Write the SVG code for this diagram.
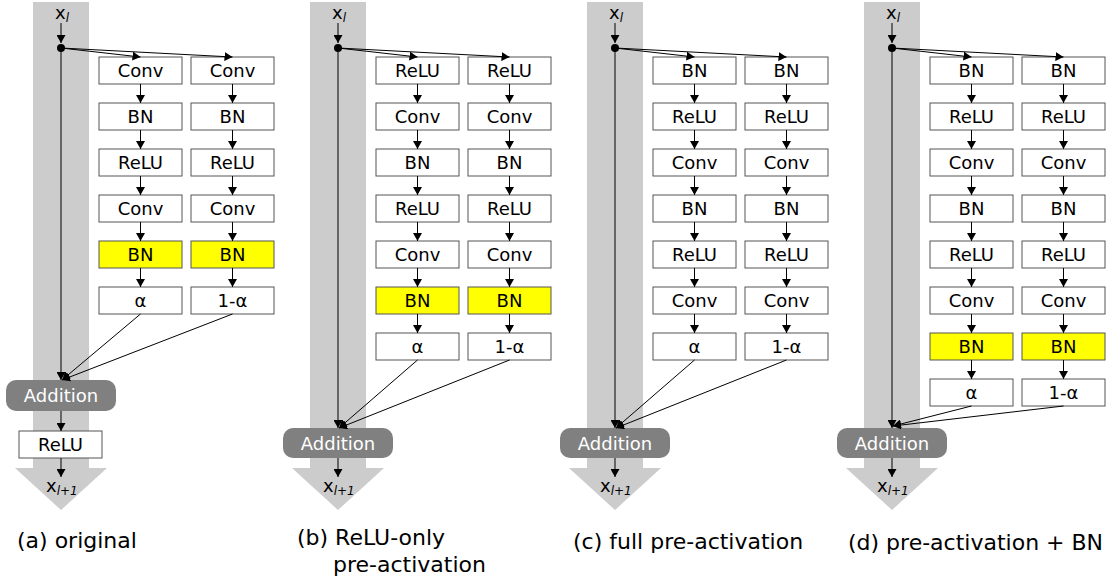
<svg xmlns="http://www.w3.org/2000/svg" width="1111" height="582" viewBox="0 0 1111 582">
<style>
text{font-family:"DejaVu Sans","Liberation Sans",sans-serif;fill:#000}
.band{fill:#cccccc}
.box{fill:#ffffff;stroke:#555555;stroke-width:1}
.ybox{fill:#ffff00;stroke:#555555;stroke-width:1}
.add{fill:#808080}
.bt{font-size:18px;text-anchor:middle}
.at{font-size:18px;text-anchor:middle;fill:#ffffff}
.cap{font-size:22px}
.lbl{font-size:18px}
.sub{font-size:12px;font-style:italic}
.c line{stroke:#000;stroke-width:1;marker-end:url(#ah)}
</style>
<defs>
<marker id="ah" markerUnits="userSpaceOnUse" markerWidth="8" markerHeight="9" refX="8" refY="4.5" orient="auto"><path d="M0,0 L8,4.5 L0,9 z" fill="#000"/></marker>
</defs>
<g id="bands">
<rect class="band" x="33" y="2" width="56" height="466"/><polygon class="band" points="15,468 107,468 61,510"/>
<rect class="band" x="310" y="2" width="56" height="466"/><polygon class="band" points="292,468 384,468 338,510"/>
<rect class="band" x="587" y="2" width="56" height="466"/><polygon class="band" points="569,468 661,468 615,510"/>
<rect class="band" x="864" y="2" width="56" height="466"/><polygon class="band" points="846,468 938,468 892,510"/>
</g>
<g id="labels">
<text class="lbl" x="55" y="19">x<tspan class="sub" dy="3">l</tspan></text>
<text class="lbl" x="332" y="19">x<tspan class="sub" dy="3">l</tspan></text>
<text class="lbl" x="609" y="19">x<tspan class="sub" dy="3">l</tspan></text>
<text class="lbl" x="886" y="19">x<tspan class="sub" dy="3">l</tspan></text>
<text class="lbl" x="46" y="492">x<tspan class="sub" dy="3">l+1</tspan></text>
<text class="lbl" x="323" y="492">x<tspan class="sub" dy="3">l+1</tspan></text>
<text class="lbl" x="600" y="492">x<tspan class="sub" dy="3">l+1</tspan></text>
<text class="lbl" x="877" y="492">x<tspan class="sub" dy="3">l+1</tspan></text>
</g>
<!-- Panel a -->
<g id="a-c1-0"><rect class="box" x="99" y="57" width="83" height="27"/><text class="bt" x="140.5" y="77">Conv</text></g>
<g id="a-c1-1"><rect class="box" x="99" y="103" width="83" height="27"/><text class="bt" x="140.5" y="123">BN</text></g>
<g id="a-c1-2"><rect class="box" x="99" y="149" width="83" height="27"/><text class="bt" x="140.5" y="169">ReLU</text></g>
<g id="a-c1-3"><rect class="box" x="99" y="195" width="83" height="27"/><text class="bt" x="140.5" y="215">Conv</text></g>
<g id="a-c1-4"><rect class="ybox" x="99" y="241" width="83" height="27"/><text class="bt" x="140.5" y="261">BN</text></g>
<g id="a-c1-5"><rect class="box" x="99" y="287" width="83" height="27"/><text class="bt" x="140.5" y="307">α</text></g>
<g id="a-c2-0"><rect class="box" x="191" y="57" width="83" height="27"/><text class="bt" x="232.5" y="77">Conv</text></g>
<g id="a-c2-1"><rect class="box" x="191" y="103" width="83" height="27"/><text class="bt" x="232.5" y="123">BN</text></g>
<g id="a-c2-2"><rect class="box" x="191" y="149" width="83" height="27"/><text class="bt" x="232.5" y="169">ReLU</text></g>
<g id="a-c2-3"><rect class="box" x="191" y="195" width="83" height="27"/><text class="bt" x="232.5" y="215">Conv</text></g>
<g id="a-c2-4"><rect class="ybox" x="191" y="241" width="83" height="27"/><text class="bt" x="232.5" y="261">BN</text></g>
<g id="a-c2-5"><rect class="box" x="191" y="287" width="83" height="27"/><text class="bt" x="232.5" y="307">1-α</text></g>
<g id="a-add"><rect class="add" x="6" y="380" width="110" height="31" rx="10"/><text class="at" x="61" y="402">Addition</text></g>
<g id="a-relu"><rect class="box" x="19" y="431" width="83" height="27"/><text class="bt" x="60.5" y="451">ReLU</text></g>
<!-- Panel b -->
<g id="b-c1-0"><rect class="box" x="376" y="57" width="83" height="27"/><text class="bt" x="417.5" y="77">ReLU</text></g>
<g id="b-c1-1"><rect class="box" x="376" y="103" width="83" height="27"/><text class="bt" x="417.5" y="123">Conv</text></g>
<g id="b-c1-2"><rect class="box" x="376" y="149" width="83" height="27"/><text class="bt" x="417.5" y="169">BN</text></g>
<g id="b-c1-3"><rect class="box" x="376" y="195" width="83" height="27"/><text class="bt" x="417.5" y="215">ReLU</text></g>
<g id="b-c1-4"><rect class="box" x="376" y="241" width="83" height="27"/><text class="bt" x="417.5" y="261">Conv</text></g>
<g id="b-c1-5"><rect class="ybox" x="376" y="287" width="83" height="27"/><text class="bt" x="417.5" y="307">BN</text></g>
<g id="b-c1-6"><rect class="box" x="376" y="333" width="83" height="27"/><text class="bt" x="417.5" y="353">α</text></g>
<g id="b-c2-0"><rect class="box" x="468" y="57" width="83" height="27"/><text class="bt" x="509.5" y="77">ReLU</text></g>
<g id="b-c2-1"><rect class="box" x="468" y="103" width="83" height="27"/><text class="bt" x="509.5" y="123">Conv</text></g>
<g id="b-c2-2"><rect class="box" x="468" y="149" width="83" height="27"/><text class="bt" x="509.5" y="169">BN</text></g>
<g id="b-c2-3"><rect class="box" x="468" y="195" width="83" height="27"/><text class="bt" x="509.5" y="215">ReLU</text></g>
<g id="b-c2-4"><rect class="box" x="468" y="241" width="83" height="27"/><text class="bt" x="509.5" y="261">Conv</text></g>
<g id="b-c2-5"><rect class="ybox" x="468" y="287" width="83" height="27"/><text class="bt" x="509.5" y="307">BN</text></g>
<g id="b-c2-6"><rect class="box" x="468" y="333" width="83" height="27"/><text class="bt" x="509.5" y="353">1-α</text></g>
<g id="b-add"><rect class="add" x="283" y="428" width="110" height="30" rx="10"/><text class="at" x="338" y="449.5">Addition</text></g>
<!-- Panel c -->
<g id="c-c1-0"><rect class="box" x="653" y="57" width="83" height="27"/><text class="bt" x="694.5" y="77">BN</text></g>
<g id="c-c1-1"><rect class="box" x="653" y="103" width="83" height="27"/><text class="bt" x="694.5" y="123">ReLU</text></g>
<g id="c-c1-2"><rect class="box" x="653" y="149" width="83" height="27"/><text class="bt" x="694.5" y="169">Conv</text></g>
<g id="c-c1-3"><rect class="box" x="653" y="195" width="83" height="27"/><text class="bt" x="694.5" y="215">BN</text></g>
<g id="c-c1-4"><rect class="box" x="653" y="241" width="83" height="27"/><text class="bt" x="694.5" y="261">ReLU</text></g>
<g id="c-c1-5"><rect class="box" x="653" y="287" width="83" height="27"/><text class="bt" x="694.5" y="307">Conv</text></g>
<g id="c-c1-6"><rect class="box" x="653" y="333" width="83" height="27"/><text class="bt" x="694.5" y="353">α</text></g>
<g id="c-c2-0"><rect class="box" x="745" y="57" width="83" height="27"/><text class="bt" x="786.5" y="77">BN</text></g>
<g id="c-c2-1"><rect class="box" x="745" y="103" width="83" height="27"/><text class="bt" x="786.5" y="123">ReLU</text></g>
<g id="c-c2-2"><rect class="box" x="745" y="149" width="83" height="27"/><text class="bt" x="786.5" y="169">Conv</text></g>
<g id="c-c2-3"><rect class="box" x="745" y="195" width="83" height="27"/><text class="bt" x="786.5" y="215">BN</text></g>
<g id="c-c2-4"><rect class="box" x="745" y="241" width="83" height="27"/><text class="bt" x="786.5" y="261">ReLU</text></g>
<g id="c-c2-5"><rect class="box" x="745" y="287" width="83" height="27"/><text class="bt" x="786.5" y="307">Conv</text></g>
<g id="c-c2-6"><rect class="box" x="745" y="333" width="83" height="27"/><text class="bt" x="786.5" y="353">1-α</text></g>
<g id="c-add"><rect class="add" x="560" y="428" width="110" height="30" rx="10"/><text class="at" x="615" y="449.5">Addition</text></g>
<!-- Panel d -->
<g id="d-c1-0"><rect class="box" x="930" y="57" width="83" height="27"/><text class="bt" x="971.5" y="77">BN</text></g>
<g id="d-c1-1"><rect class="box" x="930" y="103" width="83" height="27"/><text class="bt" x="971.5" y="123">ReLU</text></g>
<g id="d-c1-2"><rect class="box" x="930" y="149" width="83" height="27"/><text class="bt" x="971.5" y="169">Conv</text></g>
<g id="d-c1-3"><rect class="box" x="930" y="195" width="83" height="27"/><text class="bt" x="971.5" y="215">BN</text></g>
<g id="d-c1-4"><rect class="box" x="930" y="241" width="83" height="27"/><text class="bt" x="971.5" y="261">ReLU</text></g>
<g id="d-c1-5"><rect class="box" x="930" y="287" width="83" height="27"/><text class="bt" x="971.5" y="307">Conv</text></g>
<g id="d-c1-6"><rect class="ybox" x="930" y="333" width="83" height="27"/><text class="bt" x="971.5" y="353">BN</text></g>
<g id="d-c1-7"><rect class="box" x="930" y="379" width="83" height="27"/><text class="bt" x="971.5" y="399">α</text></g>
<g id="d-c2-0"><rect class="box" x="1022" y="57" width="83" height="27"/><text class="bt" x="1063.5" y="77">BN</text></g>
<g id="d-c2-1"><rect class="box" x="1022" y="103" width="83" height="27"/><text class="bt" x="1063.5" y="123">ReLU</text></g>
<g id="d-c2-2"><rect class="box" x="1022" y="149" width="83" height="27"/><text class="bt" x="1063.5" y="169">Conv</text></g>
<g id="d-c2-3"><rect class="box" x="1022" y="195" width="83" height="27"/><text class="bt" x="1063.5" y="215">BN</text></g>
<g id="d-c2-4"><rect class="box" x="1022" y="241" width="83" height="27"/><text class="bt" x="1063.5" y="261">ReLU</text></g>
<g id="d-c2-5"><rect class="box" x="1022" y="287" width="83" height="27"/><text class="bt" x="1063.5" y="307">Conv</text></g>
<g id="d-c2-6"><rect class="ybox" x="1022" y="333" width="83" height="27"/><text class="bt" x="1063.5" y="353">BN</text></g>
<g id="d-c2-7"><rect class="box" x="1022" y="379" width="83" height="27"/><text class="bt" x="1063.5" y="399">1-α</text></g>
<g id="d-add"><rect class="add" x="837" y="428" width="110" height="30" rx="10"/><text class="at" x="892" y="449.5">Addition</text></g>
<g id="connectors" class="c">
<!-- a -->
<line x1="61" y1="23" x2="61" y2="43"/>
<line x1="61" y1="48" x2="140.5" y2="57"/>
<line x1="61" y1="48" x2="232.5" y2="57"/>
<line x1="61" y1="48" x2="61" y2="380"/>
<line x1="140.5" y1="84" x2="140.5" y2="103"/><line x1="140.5" y1="130" x2="140.5" y2="149"/><line x1="140.5" y1="176" x2="140.5" y2="195"/><line x1="140.5" y1="222" x2="140.5" y2="241"/><line x1="140.5" y1="268" x2="140.5" y2="287"/>
<line x1="232.5" y1="84" x2="232.5" y2="103"/><line x1="232.5" y1="130" x2="232.5" y2="149"/><line x1="232.5" y1="176" x2="232.5" y2="195"/><line x1="232.5" y1="222" x2="232.5" y2="241"/><line x1="232.5" y1="268" x2="232.5" y2="287"/>
<line x1="140.5" y1="314" x2="62" y2="380"/>
<line x1="232.5" y1="314" x2="62" y2="380"/>
<line x1="61" y1="411" x2="61" y2="431"/>
<line x1="61" y1="458" x2="61" y2="477"/>
<!-- b -->
<line x1="338" y1="23" x2="338" y2="43"/>
<line x1="338" y1="48" x2="417.5" y2="57"/>
<line x1="338" y1="48" x2="509.5" y2="57"/>
<line x1="338" y1="48" x2="338" y2="428"/>
<line x1="417.5" y1="84" x2="417.5" y2="103"/><line x1="417.5" y1="130" x2="417.5" y2="149"/><line x1="417.5" y1="176" x2="417.5" y2="195"/><line x1="417.5" y1="222" x2="417.5" y2="241"/><line x1="417.5" y1="268" x2="417.5" y2="287"/><line x1="417.5" y1="314" x2="417.5" y2="333"/>
<line x1="509.5" y1="84" x2="509.5" y2="103"/><line x1="509.5" y1="130" x2="509.5" y2="149"/><line x1="509.5" y1="176" x2="509.5" y2="195"/><line x1="509.5" y1="222" x2="509.5" y2="241"/><line x1="509.5" y1="268" x2="509.5" y2="287"/><line x1="509.5" y1="314" x2="509.5" y2="333"/>
<line x1="417.5" y1="360" x2="339" y2="428"/>
<line x1="509.5" y1="360" x2="339" y2="428"/>
<line x1="338" y1="458" x2="338" y2="477"/>
<!-- c -->
<line x1="615" y1="23" x2="615" y2="43"/>
<line x1="615" y1="48" x2="694.5" y2="57"/>
<line x1="615" y1="48" x2="786.5" y2="57"/>
<line x1="615" y1="48" x2="615" y2="428"/>
<line x1="694.5" y1="84" x2="694.5" y2="103"/><line x1="694.5" y1="130" x2="694.5" y2="149"/><line x1="694.5" y1="176" x2="694.5" y2="195"/><line x1="694.5" y1="222" x2="694.5" y2="241"/><line x1="694.5" y1="268" x2="694.5" y2="287"/><line x1="694.5" y1="314" x2="694.5" y2="333"/>
<line x1="786.5" y1="84" x2="786.5" y2="103"/><line x1="786.5" y1="130" x2="786.5" y2="149"/><line x1="786.5" y1="176" x2="786.5" y2="195"/><line x1="786.5" y1="222" x2="786.5" y2="241"/><line x1="786.5" y1="268" x2="786.5" y2="287"/><line x1="786.5" y1="314" x2="786.5" y2="333"/>
<line x1="694.5" y1="360" x2="616" y2="428"/>
<line x1="786.5" y1="360" x2="616" y2="428"/>
<line x1="615" y1="458" x2="615" y2="477"/>
<!-- d -->
<line x1="892" y1="23" x2="892" y2="43"/>
<line x1="892" y1="48" x2="971.5" y2="57"/>
<line x1="892" y1="48" x2="1063.5" y2="57"/>
<line x1="892" y1="48" x2="892" y2="428"/>
<line x1="971.5" y1="84" x2="971.5" y2="103"/><line x1="971.5" y1="130" x2="971.5" y2="149"/><line x1="971.5" y1="176" x2="971.5" y2="195"/><line x1="971.5" y1="222" x2="971.5" y2="241"/><line x1="971.5" y1="268" x2="971.5" y2="287"/><line x1="971.5" y1="314" x2="971.5" y2="333"/><line x1="971.5" y1="360" x2="971.5" y2="379"/>
<line x1="1063.5" y1="84" x2="1063.5" y2="103"/><line x1="1063.5" y1="130" x2="1063.5" y2="149"/><line x1="1063.5" y1="176" x2="1063.5" y2="195"/><line x1="1063.5" y1="222" x2="1063.5" y2="241"/><line x1="1063.5" y1="268" x2="1063.5" y2="287"/><line x1="1063.5" y1="314" x2="1063.5" y2="333"/><line x1="1063.5" y1="360" x2="1063.5" y2="379"/>
<line x1="971.5" y1="406" x2="893" y2="426"/>
<line x1="1063.5" y1="406" x2="893" y2="426"/>
<line x1="892" y1="458" x2="892" y2="477"/>
<circle cx="61" cy="48" r="4" fill="#000"/>
<circle cx="338" cy="48" r="4" fill="#000"/>
<circle cx="615" cy="48" r="4" fill="#000"/>
<circle cx="892" cy="48" r="4" fill="#000"/>
</g>
<g id="captions">
<text class="cap" x="17" y="548">(a) original</text>
<text class="cap" x="297" y="545">(b) ReLU-only</text>
<text class="cap" x="333" y="572">pre-activation</text>
<text class="cap" x="573" y="549">(c) full pre-activation</text>
<text class="cap" x="848" y="550">(d) pre-activation + BN</text>
</g>
</svg>
